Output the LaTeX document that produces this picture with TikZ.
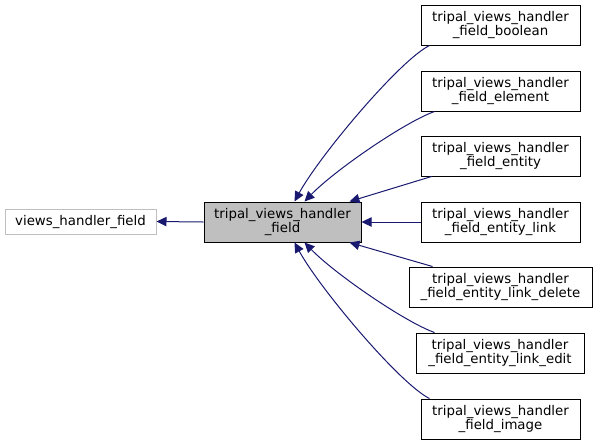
\documentclass[tikz,border=0pt]{standalone}
\usepackage{fontspec}
\setmainfont{DejaVu Sans}
\usetikzlibrary{arrows.meta,calc}
\definecolor{edgeblue}{HTML}{191970}
\definecolor{boxgray}{HTML}{BFBFBF}
\definecolor{lightborder}{HTML}{BFBFBF}
\begin{document}
\begin{tikzpicture}[x=0.75pt,y=-0.75pt,
  box/.style={draw=black,line width=0.75pt,fill=white,align=center,inner sep=0pt,
    minimum height=30pt,font=\fontsize{10}{11}\selectfont},
  childbox/.style={box,minimum width=119.25pt},
  edge/.style={draw=edgeblue,line width=0.75pt,-{Triangle[length=7.5pt,width=7pt]}}]
\useasboundingbox (0,0) rectangle (596,444);
\node[box,fill=boxgray,minimum width=117.75pt] (parent) at (282.5,222) {tripal\_views\_handler\\\_field};
\node[box,draw=lightborder,minimum width=113.25pt,minimum height=18.75pt] (vhf) at (80.5,221.5) {views\_handler\_field};
\node[childbox] (boolean) at (500.5,25) {tripal\_views\_handler\\\_field\_boolean};
\node[childbox] (element) at (500.5,91) {tripal\_views\_handler\\\_field\_element};
\node[childbox] (entity) at (500.5,156) {tripal\_views\_handler\\\_field\_entity};
\node[childbox] (entitylink) at (500.5,222) {tripal\_views\_handler\\\_field\_entity\_link};
\node[box,minimum width=137.25pt] (delete) at (500.5,287) {tripal\_views\_handler\\\_field\_entity\_link\_delete};
\node[box,minimum width=126pt] (edit) at (500,353) {tripal\_views\_handler\\\_field\_entity\_link\_edit};
\node[childbox] (image) at (500.5,419) {tripal\_views\_handler\\\_field\_image};
% edges
\draw[edge] (parent.west) -- (vhf.east);
\draw[edge] ($(boolean.south west)+(9,0)$) .. controls (400,60) and (320,155) .. ($(parent.north west)+(91,0)$);
\draw[edge] ($(element.south west)+(14,0)$) .. controls (405,122) and (335,170) .. ($(parent.north west)+(101,0)$);
\draw[edge] ($(entity.south west)+(11,0)$) -- ($(parent.north west)+(146,0)$);
\draw[edge] (entitylink.west) -- (parent.east);
\draw[edge] ($(delete.north west)+(24,0)$) -- ($(parent.south west)+(146,0)$);
\draw[edge] ($(edit.north west)+(19,0)$) .. controls (405,322) and (335,274) .. ($(parent.south west)+(101,0)$);
\draw[edge] ($(image.north west)+(9,0)$) .. controls (400,384) and (320,289) .. ($(parent.south west)+(91,0)$);
\end{tikzpicture}
\end{document}
